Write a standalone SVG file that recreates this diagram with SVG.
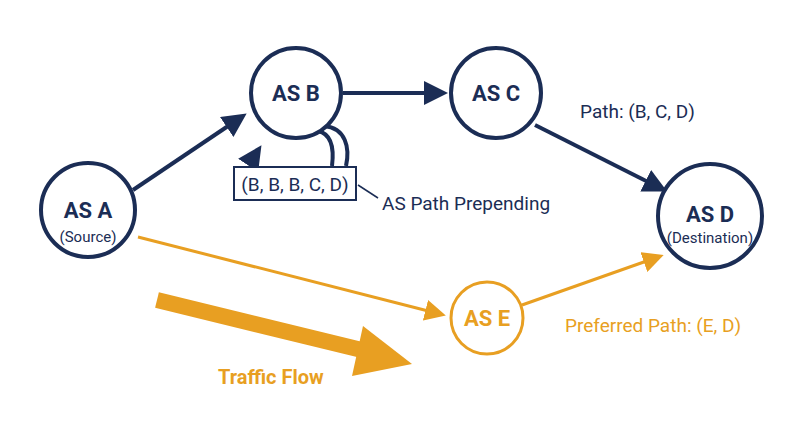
<svg xmlns="http://www.w3.org/2000/svg" width="800" height="447" viewBox="0 0 800 447">
<style>
.n{fill:#fff;stroke:#1b2d55;stroke-width:4}
.o{fill:#fff;stroke:#e89f22;stroke-width:3}
.t{font-family:Roboto,"Liberation Sans",sans-serif;text-anchor:middle}
.b{font-weight:bold;font-size:22px}
.s{font-size:15px}
.cn{fill:none;stroke:#1b2d55;stroke-width:4}
.co{fill:none;stroke:#e89f22;stroke-width:3}
</style>
<defs>
<marker id="an" markerWidth="6" markerHeight="6" refX="4" refY="3" orient="auto" markerUnits="strokeWidth"><path d="M0,0L6,3L0,6z" fill="#1b2d55"/></marker>
<marker id="ao" markerWidth="7" markerHeight="7" refX="5" refY="3.5" orient="auto" markerUnits="strokeWidth"><path d="M0,0L7,3.5L0,7z" fill="#e89f22"/></marker>
</defs>
<rect width="800" height="447" fill="#fff"/>
<g id="connectors">
<line class="cn" x1="133" y1="190" x2="240" y2="118" marker-end="url(#an)"/>
<line class="cn" x1="343" y1="93" x2="440" y2="93" marker-end="url(#an)"/>
<line class="cn" x1="535" y1="125" x2="660" y2="188" marker-end="url(#an)"/>
<line class="co" x1="138" y1="237" x2="440" y2="314" marker-end="url(#ao)"/>
<line class="co" x1="522" y1="305" x2="658" y2="257" marker-end="url(#ao)"/>
<path class="cn" d="M318,131 C332,134 334,150 332,166"/>
<path class="cn" d="M324,126 C346,128 350,148 346,166"/>
<path class="cn" d="M257,167 C254,160 255,155 257,152" marker-end="url(#an)"/>
<line x1="358" y1="185" x2="378" y2="198" stroke="#1b2d55" stroke-width="1.5"/>
<line x1="157" y1="300" x2="370" y2="352" stroke="#e89f22" stroke-width="16"/>
<path d="M363,326 L412,364 L352,376 z" fill="#e89f22"/>
</g>
<g id="A"><circle class="n" cx="88" cy="210" r="47"/><text class="t b" x="88" y="218" fill="#1b2d55">AS A</text><text class="t s" x="88" y="242" fill="#1b2d55">(Source)</text></g>
<g id="B"><circle class="n" cx="296" cy="93" r="45"/><text class="t b" x="296" y="101" fill="#1b2d55">AS B</text></g>
<g id="C"><circle class="n" cx="496" cy="93" r="45"/><text class="t b" x="496" y="101" fill="#1b2d55">AS C</text></g>
<g id="D"><circle class="n" cx="710" cy="216" r="52"/><text class="t b" x="710" y="222" fill="#1b2d55">AS D</text><text class="t s" x="710" y="243" fill="#1b2d55">(Destination)</text></g>
<g id="E"><circle class="o" cx="487" cy="318" r="36"/><text class="t b" x="487" y="326" fill="#e89f22">AS E</text></g>
<g id="box"><rect x="234" y="167" width="122" height="33" fill="#fff" stroke="#1b2d55" stroke-width="2"/><text class="t" x="295" y="191" font-size="19" fill="#1b2d55">(B, B, B, C, D)</text></g>
<g id="labels" font-family="Roboto,'Liberation Sans',sans-serif">
<text x="382" y="210" font-size="19" fill="#1b2d55">AS Path Prepending</text>
<text x="580" y="118" font-size="19" fill="#1b2d55">Path: (B, C, D)</text>
<text x="565" y="332" font-size="19" fill="#e89f22">Preferred Path: (E, D)</text>
<text x="218" y="384" font-size="20" font-weight="bold" fill="#e89f22">Traffic Flow</text>
</g>
</svg>
